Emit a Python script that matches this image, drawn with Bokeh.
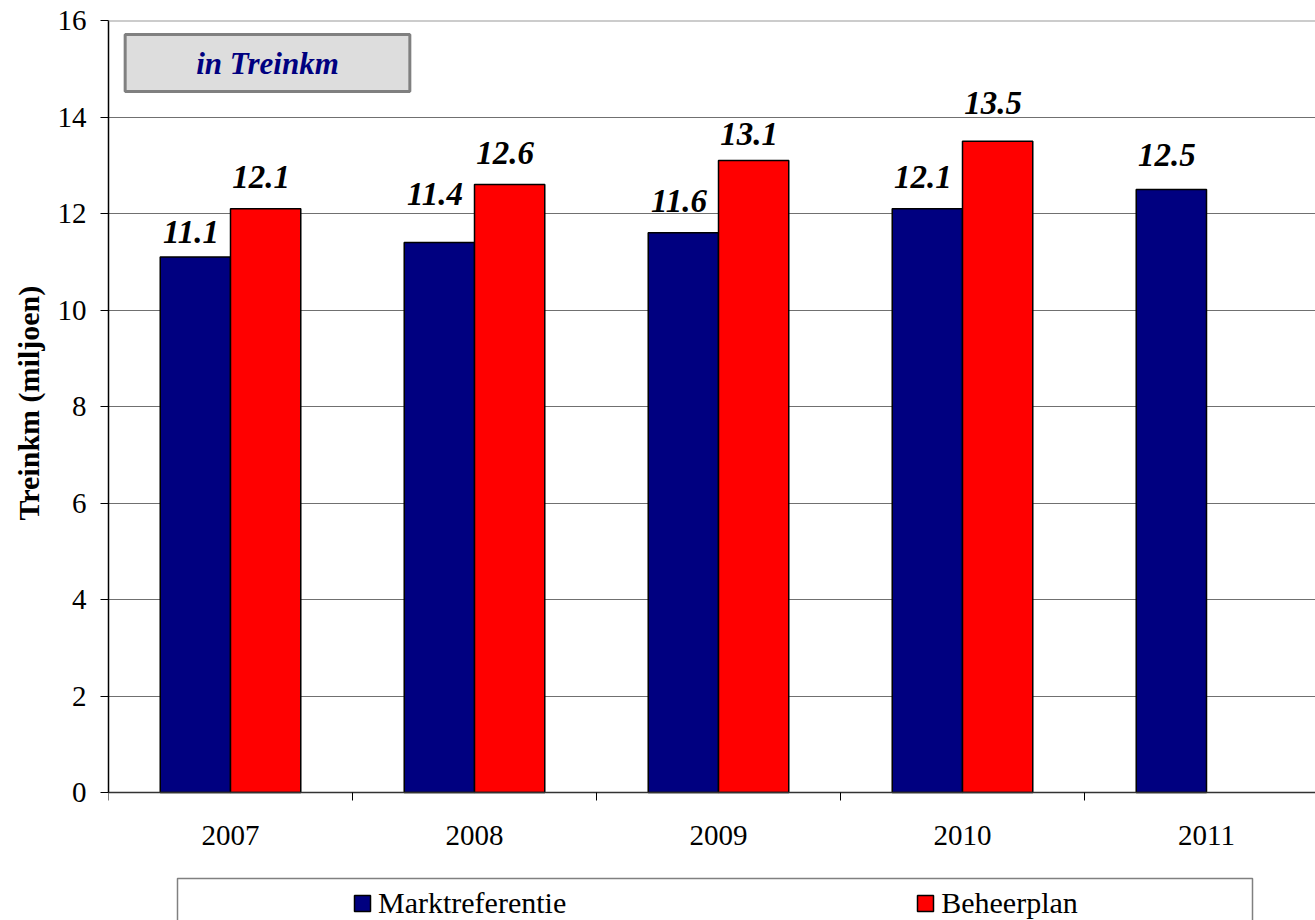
from bokeh.plotting import figure
from bokeh.models import (ColumnDataSource, Range1d, FixedTicker, LabelSet, Label,
                          Legend, LegendItem, BoxAnnotation, Title, Span)
from bokeh.transform import dodge
from bokeh.embed import file_html
from bokeh.resources import INLINE

years = ["2007", "2008", "2009", "2010", "2011"]
marktreferentie = [11.1, 11.4, 11.6, 12.1, 12.5]
beheerplan = [12.1, 12.6, 13.1, 13.5, None]
y_ticks = [0, 2, 4, 6, 8, 10, 12, 14, 16]

# label gap above each bar (pixels), as placed in the original chart
gap_markt = [14, 37, 21, 21, 23]
gap_beheer = [21, 21, 15, 27, None]

FONT = "Liberation Serif"
BLUE = "#000080"
RED = "#FF0000"

xs = [i + 0.5 for i in range(len(years))]
src_m = ColumnDataSource(dict(x=xs, y=marktreferentie, dy=gap_markt,
                              lbl=[f"{v:.1f}" for v in marktreferentie]))
keep = [i for i, v in enumerate(beheerplan) if v is not None]
src_b = ColumnDataSource(dict(x=[xs[i] for i in keep], y=[beheerplan[i] for i in keep],
                              dy=[gap_beheer[i] for i in keep],
                              lbl=[f"{beheerplan[i]:.1f}" for i in keep]))

# layout (pixels)
W, H = 1315, 920
LEFT, TOP = 108, 20
AXIS_Y = 792                      # pixel row of value 0
CAT_PX = 244
frame_w = W - LEFT
frame_h = H - TOP
px_per_unit = (AXIS_Y - TOP) / 16.0
y_start = 16 - frame_h / px_per_unit

p = figure(width=W, height=H, output_backend="svg", toolbar_location=None,
           x_range=Range1d(0, frame_w / CAT_PX), y_range=Range1d(y_start, 16),
           min_border_left=LEFT, min_border_right=0, min_border_top=TOP,
           min_border_bottom=0)
p.outline_line_color = None
p.background_fill_color = "white"

# grid
p.xgrid.visible = False
p.ygrid.ticker = FixedTicker(ticks=y_ticks)
p.ygrid.grid_line_color = "#707070"
p.ygrid.grid_line_width = 1
p.add_layout(Span(location=16, dimension="width", line_color="#9A9A9A", line_width=2))

# y axis
p.yaxis.ticker = FixedTicker(ticks=y_ticks)
p.yaxis.bounds = (0, 16)
p.yaxis.axis_line_color = "black"
p.yaxis.axis_line_width = 1.5
p.yaxis.major_tick_out = 8
p.yaxis.major_tick_in = 0
p.yaxis.minor_tick_line_color = None
p.yaxis.major_label_text_font = FONT
p.yaxis.major_label_text_font_size = "29px"
p.yaxis.major_label_text_color = "black"
p.yaxis.major_label_standoff = 14

# y axis title, placed along the 0..16 span
p.add_layout(Title(text="Treinkm (miljoen)", align="left", offset=400, standoff=19,
                   text_font=FONT, text_font_size="30px", text_font_style="bold",
                   text_color="black"), "left")

# x axis, drawn at value 0
p.xaxis.fixed_location = 0
p.xaxis.ticker = FixedTicker(ticks=xs, minor_ticks=list(range(len(years) + 1)))
p.xaxis.major_label_overrides = {x: y for x, y in zip(xs, years)}
p.xaxis.major_tick_line_color = None
p.xaxis.minor_tick_out = 8
p.xaxis.minor_tick_in = 0
p.xaxis.minor_tick_line_color = "black"
p.xaxis.axis_line_color = "#333333"
p.xaxis.axis_line_width = 1.5
p.xaxis.major_label_text_font = FONT
p.xaxis.major_label_text_font_size = "29px"
p.xaxis.major_label_text_color = "black"
p.xaxis.major_label_standoff = 25

BW = 0.288
rm = p.vbar(x=dodge("x", -BW / 2, range=p.x_range), top="y", width=BW, source=src_m,
            fill_color=BLUE, line_color="black", line_width=1.5)
rb = p.vbar(x=dodge("x", BW / 2, range=p.x_range), top="y", width=BW, source=src_b,
            fill_color=RED, line_color="black", line_width=1.5)

for src, off in ((src_m, -BW / 2), (src_b, BW / 2)):
    p.add_layout(LabelSet(x=dodge("x", off - 0.018, range=p.x_range), y="y", text="lbl",
                          source=src, y_offset="dy", text_align="center",
                          text_baseline="alphabetic", text_font=FONT,
                          text_font_size="33px", text_font_style="bold italic",
                          text_color="black"))

# title box (screen units: from frame left / frame bottom)
p.add_layout(Label(x=267 - LEFT, y=H - 62.5, x_units="screen", y_units="screen",
                   text="in Treinkm", text_align="center", text_baseline="middle",
                   text_font=FONT, text_font_size="31px", text_font_style="bold italic",
                   text_color=BLUE, background_fill_color="#DDDDDD",
                   border_line_color="#808080", border_line_width=3,
                   padding=(71, 71, 11, 11)))

# legend frame
p.add_layout(BoxAnnotation(left=177 - LEFT, right=1252 - LEFT, top=H - 878, bottom=-30,
                           left_units="screen", right_units="screen",
                           top_units="screen", bottom_units="screen",
                           fill_alpha=0, line_color="#808080", line_width=1.5,
                           line_alpha=1))

legend = Legend(items=[LegendItem(label="Marktreferentie", renderers=[rm]),
                       LegendItem(label="Beheerplan", renderers=[rb])],
                orientation="horizontal", location=(352 - LEFT, 0),
                padding=0, spacing=349, glyph_width=20, glyph_height=20,
                label_standoff=6, label_text_font=FONT, label_text_font_size="30px",
                label_text_color="black", border_line_alpha=0,
                background_fill_alpha=0)
p.add_layout(legend, "center")

open("out.html", "w").write(file_html(p, INLINE))
